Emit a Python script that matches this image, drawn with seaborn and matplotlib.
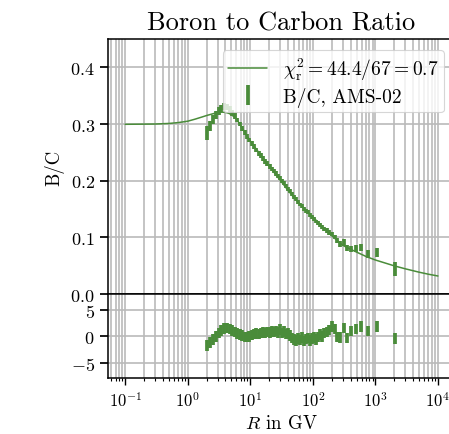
import matplotlib
matplotlib.use("Agg")
import matplotlib.pyplot as plt
import seaborn as sns
from matplotlib.ticker import LogLocator, NullFormatter

# ---- propagation model (B/C vs rigidity) ----
model_rigidity = [0.1, 0.2, 0.3, 0.5, 0.7, 1.0, 1.3, 1.7, 2.0, 2.5, 3.0, 3.5, 4.0,
                  4.5, 5.0, 6.0, 7.0, 8.0, 10, 12, 15, 20, 25, 30, 40, 50, 70,
                  100, 150, 200, 300, 400, 500, 700, 1000, 1500, 2000, 3000,
                  5000, 7000, 10000]
model_ratio = [0.2995, 0.2998, 0.3000, 0.3010, 0.3025, 0.3050, 0.3085, 0.3125,
               0.3150, 0.3180, 0.3200, 0.3210, 0.3205, 0.3190, 0.3165, 0.3090,
               0.2970, 0.2870, 0.2700, 0.2580, 0.2440, 0.2260, 0.2120, 0.2010,
               0.1830, 0.1700, 0.1530, 0.1360, 0.1160, 0.1030, 0.0860, 0.0790,
               0.0740, 0.0665, 0.0600, 0.0540, 0.0497, 0.0445, 0.0385, 0.0350,
               0.0318]

# ---- AMS-02 B/C measurement (bin centres in GV) ----
rigidity = [2.03, 2.27, 2.53, 2.82, 3.13, 3.46, 3.83, 4.22, 4.65, 5.12,
            5.63, 6.18, 6.77, 7.42, 8.11, 8.86, 9.67, 10.54, 11.49, 12.49,
            13.54, 14.69, 15.94, 17.29, 18.73, 20.28, 21.93, 23.73, 25.68, 27.73,
            29.93, 32.28, 34.78, 37.47, 40.37, 43.47, 46.77, 50.32, 54.12, 58.16,
            62.51, 67.21, 72.25, 77.65, 83.45, 89.69, 96.44, 103.9, 111.9, 120.4,
            129.9, 140.9, 153.4, 167.3, 183.3, 201.3, 221.7, 245.7, 274.5, 309.9,
            353.7, 408.8, 481.2, 588.6, 762.1, 1069.6, 2071.2]
ratio = [0.284, 0.297, 0.308, 0.316, 0.323, 0.328, 0.331, 0.330, 0.326, 0.320,
         0.314, 0.307, 0.300, 0.292, 0.285, 0.278, 0.272, 0.266, 0.260, 0.254,
         0.248, 0.244, 0.239, 0.234, 0.230, 0.225, 0.221, 0.217, 0.213, 0.208,
         0.205, 0.199, 0.196, 0.191, 0.186, 0.181, 0.176, 0.171, 0.167, 0.163,
         0.158, 0.155, 0.150, 0.147, 0.144, 0.139, 0.136, 0.133, 0.128, 0.125,
         0.122, 0.118, 0.115, 0.112, 0.109, 0.106, 0.101, 0.094, 0.088, 0.091,
         0.081, 0.080, 0.081, 0.082, 0.071, 0.074, 0.044]
ratio_err = [0.013, 0.009, 0.008, 0.007, 0.007, 0.006, 0.006, 0.006, 0.005, 0.005,
             0.005, 0.004, 0.004, 0.004, 0.004, 0.004, 0.004, 0.004, 0.004, 0.004,
             0.004, 0.004, 0.004, 0.004, 0.004, 0.004, 0.004, 0.004, 0.004, 0.004,
             0.0035, 0.0035, 0.0035, 0.0035, 0.0035, 0.0035, 0.0035, 0.0035, 0.0035, 0.0035,
             0.0035, 0.0035, 0.0035, 0.0035, 0.0035, 0.0035, 0.0035, 0.0035, 0.0035, 0.0035,
             0.004, 0.004, 0.004, 0.004, 0.004, 0.004, 0.004, 0.004, 0.005, 0.006,
             0.005, 0.005, 0.006, 0.006, 0.007, 0.008, 0.012]
# normalised residuals (data - model) / sigma
residual = [-1.7, -1.2, -0.6, 0.0, 0.6, 1.1, 1.5, 1.6, 1.4, 1.1,
            0.8, 0.5, 0.3, 0.1, -0.1, -0.1, 0.0, 0.2, 0.4, 0.5,
            0.4, 0.6, 0.7, 0.6, 0.8, 0.7, 0.9, 0.8, 1.0, 0.7,
            1.3, 0.6, 0.9, 0.4, 0.5, 0.1, -0.3, -0.6, -0.8, -0.4,
            -0.7, -0.2, -0.9, -0.5, -0.3, -0.8, -0.4, -0.2, -0.6, -0.1,
            0.3, 0.0, 0.6, 0.8, 1.2, 1.8, 1.4, -0.1, -0.2, 1.6,
            -0.3, 1.0, 1.4, 1.8, 1.0, 1.8, -0.4]
residual_err = [1.0] * len(residual)

fit_label = r"$\chi^2_\mathrm{r} = 44.4/67 = 0.7$"
data_label = "B/C, AMS-02"

sns.set_theme(style="ticks")
plt.rcParams.update({
    "font.family": "serif",
    "font.serif": ["cmr10"],
    "mathtext.fontset": "cm",
    "axes.formatter.use_mathtext": True,
    "axes.edgecolor": "black",
    "axes.linewidth": 1.1,
    "xtick.color": "black",
    "ytick.color": "black",
    "text.color": "black",
    "axes.labelcolor": "black",
    "xtick.labelsize": 12,
    "ytick.labelsize": 13,
})

green = "#4a8c3a"
grid_kw = dict(color="#bababa", lw=1.2)

fig = plt.figure(figsize=(4.49, 4.35), dpi=100)
ax = fig.add_axes([0.2405, 0.3218, 0.7728, 0.5862])
rax = fig.add_axes([0.2405, 0.1276, 0.7728, 0.1942], sharex=ax)

for a in (ax, rax):
    a.set_xscale("log")
    a.set_axisbelow(True)

sns.lineplot(x=model_rigidity, y=model_ratio, ax=ax, color=green, lw=1.1,
             label=fit_label)
ax.errorbar(rigidity, ratio, yerr=ratio_err, fmt="none", ecolor=green,
            elinewidth=2.7, label=data_label)

rax.errorbar(rigidity, residual, yerr=residual_err, fmt="none", ecolor=green,
             elinewidth=2.7)

ax.set_xlim(0.053, 1.87e4)
ax.set_ylim(0.0, 0.45)
ax.set_yticks([0.0, 0.1, 0.2, 0.3, 0.4])
rax.set_ylim(-8, 8)
rax.set_yticks([-5, 0, 5])

for a in (ax, rax):
    a.xaxis.set_major_locator(LogLocator(base=10, numticks=12))
    a.xaxis.set_minor_locator(LogLocator(base=10, subs=range(2, 10), numticks=12))
    a.xaxis.set_minor_formatter(NullFormatter())
    a.grid(True, which="both", axis="x", **grid_kw)
    a.grid(True, which="major", axis="y", **grid_kw)

ax.tick_params(axis="x", which="both", labelbottom=False, length=0)
rax.tick_params(axis="x", which="major", length=5, width=1.0, pad=3)
rax.tick_params(axis="x", which="minor", length=2.5, width=0.8)

ax.set_title("Boron to Carbon Ratio", fontsize=19, pad=7)
ax.set_ylabel("B/C", fontsize=13.5)
ax.yaxis.set_label_coords(-0.125, 0.5)
ax.set_xlabel("")
rax.set_xlabel(r"$R$ in GV", fontsize=13.5, labelpad=4)

leg = ax.legend(loc="upper right", fontsize=14, framealpha=0.8,
                edgecolor="#cccccc", fancybox=True, handlelength=2.0,
                borderaxespad=0.55, labelspacing=0.25, borderpad=0.3)
leg.get_frame().set_linewidth(0.8)

fig.savefig("out.png", dpi=100)
